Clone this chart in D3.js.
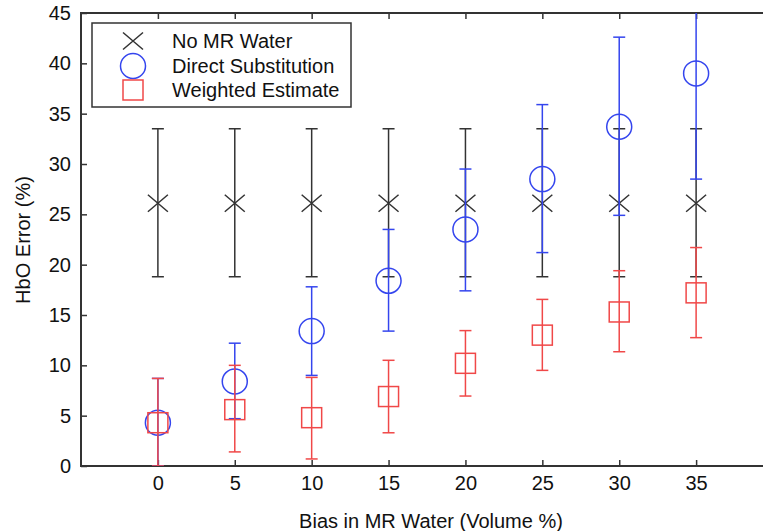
<!DOCTYPE html>
<html>
<head>
<meta charset="utf-8">
<script src="https://cdn.jsdelivr.net/npm/d3@7"></script>
<style>
  body { margin: 0; background: #fff; }
  text { font-family: "Liberation Sans", Arial, sans-serif; fill: #111; }
</style>
</head>
<body>
<div id="graph"></div>
<script>
// bias levels (Volume %)
var bias = [0, 5, 10, 15, 20, 25, 30, 35];

// No MR Water
var noMrMean = [26.1, 26.1, 26.1, 26.1, 26.1, 26.1, 26.1, 26.1];
var noMrLow  = [18.8, 18.8, 18.8, 18.8, 18.8, 18.8, 18.8, 18.8];
var noMrHigh = [33.5, 33.5, 33.5, 33.5, 33.5, 33.5, 33.5, 33.5];

// Direct Substitution
var directMean = [4.3, 8.4, 13.4, 18.4, 23.5, 28.5, 33.7, 39.0];
var directLow  = [0.0, 4.7, 9.0, 13.4, 17.4, 21.2, 24.9, 28.5];
var directHigh = [8.7, 12.2, 17.8, 23.5, 29.5, 35.9, 42.6, 49.5];

// Weighted Estimate
var weightedMean = [4.3, 5.6, 4.8, 6.9, 10.2, 13.0, 15.3, 17.2];
var weightedLow  = [0.0, 1.4, 0.7, 3.3, 6.95, 9.5, 11.35, 12.75];
var weightedHigh = [8.7, 10.0, 8.8, 10.5, 13.45, 16.55, 19.4, 21.7];

var xTicks = [0, 5, 10, 15, 20, 25, 30, 35];
var yTicks = [0, 5, 10, 15, 20, 25, 30, 35, 40, 45];

var seriesNames = ["No MR Water", "Direct Substitution", "Weighted Estimate"];

var width = 763, height = 531;
var margin = {top: 13, right: -10, bottom: 65, left: 81};

var svg = d3.select("#graph").append("svg")
    .attr("width", width)
    .attr("height", height);

var xScale = d3.scaleLinear().domain([-5, 40]).range([margin.left, width - margin.right]);
var yScale = d3.scaleLinear().domain([0, 45]).range([height - margin.bottom, margin.top]);

var colors = {black: "#333333", blue: "#3445ee", red: "#f04848"};

svg.append("clipPath").attr("id", "plotClip")
  .append("rect")
    .attr("x", xScale(-5)).attr("y", yScale(45))
    .attr("width", xScale(40) - xScale(-5))
    .attr("height", yScale(0) - yScale(45));

// axes with inward ticks
var tickLen = 6;
svg.append("g")
    .attr("transform", "translate(0," + yScale(0) + ")")
    .call(d3.axisBottom(xScale).tickValues(xTicks).tickSizeInner(-tickLen).tickSizeOuter(0).tickPadding(10))
    .call(function(g) { g.select(".domain").remove(); });
svg.append("g")
    .attr("transform", "translate(0," + yScale(45) + ")")
    .call(d3.axisTop(xScale).tickValues(xTicks).tickSizeInner(-tickLen).tickSizeOuter(0).tickFormat(""))
    .call(function(g) { g.select(".domain").remove(); });
svg.append("g")
    .attr("transform", "translate(" + xScale(-5) + ",0)")
    .call(d3.axisLeft(yScale).tickValues(yTicks).tickSizeInner(-tickLen).tickSizeOuter(0).tickPadding(10))
    .call(function(g) { g.select(".domain").remove(); });
svg.append("g")
    .attr("transform", "translate(" + xScale(40) + ",0)")
    .call(d3.axisRight(yScale).tickValues(yTicks).tickSizeInner(-tickLen).tickSizeOuter(0).tickFormat(""))
    .call(function(g) { g.select(".domain").remove(); });

svg.selectAll(".tick line").attr("stroke", "#333").attr("stroke-width", 1.5);
svg.selectAll(".tick text").style("font-size", "20px")
    .style("font-family", "'Liberation Sans', Arial, sans-serif").attr("fill", "#111");

svg.append("rect")
    .attr("x", xScale(-5)).attr("y", yScale(45))
    .attr("width", xScale(40) - xScale(-5))
    .attr("height", yScale(0) - yScale(45))
    .attr("fill", "none").attr("stroke", "#333").attr("stroke-width", 2);

var plot = svg.append("g").attr("clip-path", "url(#plotClip)");

function errorBars(mean, low, high, color) {
    var g = plot.append("g").attr("stroke", color).attr("stroke-width", 1.5).attr("fill", "none");
    bias.forEach(function(b, i) {
        var x = xScale(b);
        g.append("line").attr("x1", x).attr("x2", x).attr("y1", yScale(low[i])).attr("y2", yScale(high[i]));
        g.append("line").attr("x1", x - 6).attr("x2", x + 6).attr("y1", yScale(low[i])).attr("y2", yScale(low[i]));
        g.append("line").attr("x1", x - 6).attr("x2", x + 6).attr("y1", yScale(high[i])).attr("y2", yScale(high[i]));
    });
    return g;
}

function crossPath(cx, cy) {
    var s = 10, t = 8.5;
    return "M" + (cx - s) + "," + (cy - t) + "L" + (cx + s) + "," + (cy + t) +
           "M" + (cx - s) + "," + (cy + t) + "L" + (cx + s) + "," + (cy - t);
}

var gBlack = errorBars(noMrMean, noMrLow, noMrHigh, colors.black);
bias.forEach(function(b, i) {
    gBlack.append("path").attr("d", crossPath(xScale(b), yScale(noMrMean[i])));
});

var gBlue = errorBars(directMean, directLow, directHigh, colors.blue);
bias.forEach(function(b, i) {
    gBlue.append("circle").attr("cx", xScale(b)).attr("cy", yScale(directMean[i])).attr("r", 12.5);
});

var gRed = errorBars(weightedMean, weightedLow, weightedHigh, colors.red);
bias.forEach(function(b, i) {
    gRed.append("rect").attr("x", xScale(b) - 10).attr("y", yScale(weightedMean[i]) - 10)
        .attr("width", 20).attr("height", 20);
});

// legend
var legend = svg.append("g");
legend.append("rect").attr("x", 92).attr("y", 23).attr("width", 259).attr("height", 84)
    .attr("fill", "#fff").attr("stroke", "#333").attr("stroke-width", 1.5);
var rowY = [41, 66, 90];
var lx = 133;
legend.append("path").attr("d", crossPath(lx, rowY[0])).attr("stroke", colors.black).attr("stroke-width", 1.5);
legend.append("circle").attr("cx", lx).attr("cy", rowY[1]).attr("r", 12.5)
    .attr("fill", "none").attr("stroke", colors.blue).attr("stroke-width", 1.5);
legend.append("rect").attr("x", lx - 10).attr("y", rowY[2] - 10).attr("width", 20).attr("height", 20)
    .attr("fill", "none").attr("stroke", colors.red).attr("stroke-width", 1.5);
seriesNames.forEach(function(name, i) {
    legend.append("text").attr("x", 172).attr("y", rowY[i]).attr("dy", "0.36em")
        .style("font-size", "20px").text(name);
});

// axis titles
svg.append("text")
    .attr("x", 431).attr("y", 521).attr("dy", "0.36em")
    .attr("text-anchor", "middle").style("font-size", "20px")
    .text("Bias in MR Water (Volume %)");
svg.append("text")
    .attr("transform", "translate(23," + 240 + ") rotate(-90)")
    .attr("dy", "0.36em")
    .attr("text-anchor", "middle").style("font-size", "20px")
    .text("HbO Error (%)");
</script>
</body>
</html>
